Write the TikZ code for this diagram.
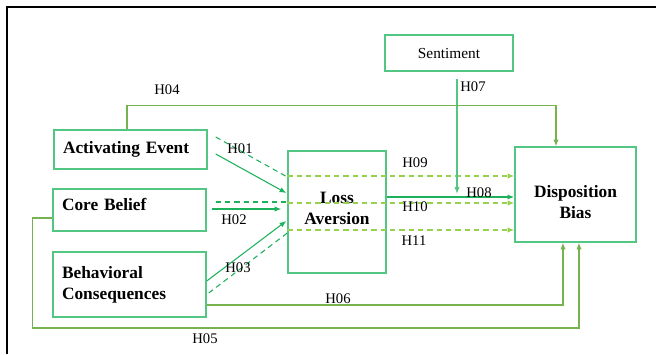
\documentclass[tikz,border=0pt]{standalone}
\usepackage{fontspec}
\setmainfont{Liberation Serif}
\usetikzlibrary{positioning,arrows.meta,calc}
\definecolor{boxgreen}{RGB}{84,198,132}
\definecolor{pathgreen}{RGB}{28,178,92}
\definecolor{limegreen}{RGB}{150,210,80}
\definecolor{olivegreen}{RGB}{118,178,78}

\begin{document}
\begin{tikzpicture}[x=0.75pt, y=-0.75pt,
  varbox/.style={draw=boxgreen, line width=1.1pt, inner sep=0pt,
                 font=\fontsize{13}{16}\selectfont\bfseries},
  srcvar/.style={varbox, minimum width=114.75pt, text width=101.25pt, align=left},
  hyp/.style={font=\fontsize{11}{13}\selectfont, inner sep=1pt},
  direct/.style={-{Latex[length=5pt, width=4pt]}, line width=0.8pt, pathgreen},
  viadash/.style={line width=0.8pt, pathgreen, dash pattern=on 4pt off 3pt},
  medarr/.style={-{Latex[length=5pt, width=4pt]}, line width=0.8pt, limegreen,
                 dash pattern=on 4pt off 3pt},
  sidearr/.style={-{Latex[length=5pt, width=4pt]}, line width=0.8pt, olivegreen},
]
\useasboundingbox (0,0) rectangle (656,354);

% ---- outer frame ----
\draw[line width=2pt, black] (7,354) -- (7,7) -- (656,7);

% ---- variables ----
\node[varbox, minimum width=96pt, minimum height=27pt,
      font=\fontsize{11.5}{13}\selectfont] (sent) at (449,53) {Sentiment};
\node[srcvar, minimum height=29.25pt] (actev) at (130.5,149.5) {Activating Event};
\node[srcvar, minimum height=31.5pt] (corebel) at (129.5,210)
  {Core Belief\rule[-9pt]{0pt}{9pt}};
\node[srcvar, minimum height=48.75pt] (behcon) at (129.5,284.5)
  {Behavioral\\Consequences};
\node[varbox, minimum width=73.5pt, minimum height=91.5pt, align=center]
  (lossav) at (337,212) {Loss\\Aversion\rule[-6pt]{0pt}{6pt}};
\node[varbox, minimum width=90.75pt, minimum height=71.25pt, align=center]
  (dispb) at (575.5,194.5) {\rule{0pt}{20pt}Disposition\\Bias};

% ---- paths into loss aversion ----
\draw[direct] ($(actev.east)+(8,4.5)$) -- ($(lossav.west)+(-1,-19)$);
\draw[viadash] ($(actev.east)+(8,-12.5)$) -- ($(lossav.west)+(0,-35)$);
\draw[direct] ($(corebel.east)+(5,-1)$) -- ($(lossav.west)+(-6,-3)$);
\draw[viadash] ($(corebel.east)+(9,-8)$) -- ($(lossav.west)+(0,-10)$);
\draw[direct] ($(behcon.east)+(0,-3.5)$) -- ($(lossav.west)+(-1,9)$);
\draw[viadash] ($(behcon.east)+(2,8.5)$) -- ($(lossav.west)+(0,21)$);

% ---- mediated paths to disposition bias ----
\draw[medarr] ($(lossav.west)+(0,-36)$) -- ($(dispb.west)+(0,-18.5)$);
\draw[medarr] ($(lossav.west)+(0,-9)$) -- ($(dispb.west)+(0,8.5)$);
\draw[medarr] ($(lossav.west)+(0,18)$) -- ($(dispb.west)+(0,35.5)$);
\draw[direct, line width=1.5pt] ($(lossav.east)+(0,-15)$) -- ($(dispb.west)+(0,2.5)$);

% ---- moderator ----
\draw[direct, boxgreen] ($(sent.south)+(8,7)$) -- ($(sent.south)+(8,122)$);

% ---- direct paths round the outside ----
\draw[sidearr] ($(actev.north)+(-3.5,0)$) -- ++(0,-24) -| ($(dispb.north)+(-19.5,0)$);
\draw[sidearr] ($(behcon.east)+(0,20.5)$) -| ($(dispb.south)+(-12.5,0)$);
\draw[sidearr] ($(corebel.west)+(0,8)$) -- ++(-20,0) -- ++(0,110)
  -| ($(dispb.south)+(3.5,0)$);

% ---- hypothesis labels ----
\node[hyp] (h01) at (240,149) {H01};
\node[hyp] (h02) at (234,220) {H02};
\node[hyp] (h03) at (238,268) {H03};
\node[hyp] (h04) at (167,90) {H04};
\node[hyp] (h05) at (205,339) {H05};
\node[hyp] (h06) at (338,299) {H06};
\node[hyp] (h07) at (473,87) {H07};
\node[hyp] (h08) at (479,193) {H08};
\node[hyp] (h09) at (415,163) {H09};
\node[hyp] (h10) at (415,207) {H10};
\node[hyp] (h11) at (414,241) {H11};

\end{tikzpicture}
\end{document}
